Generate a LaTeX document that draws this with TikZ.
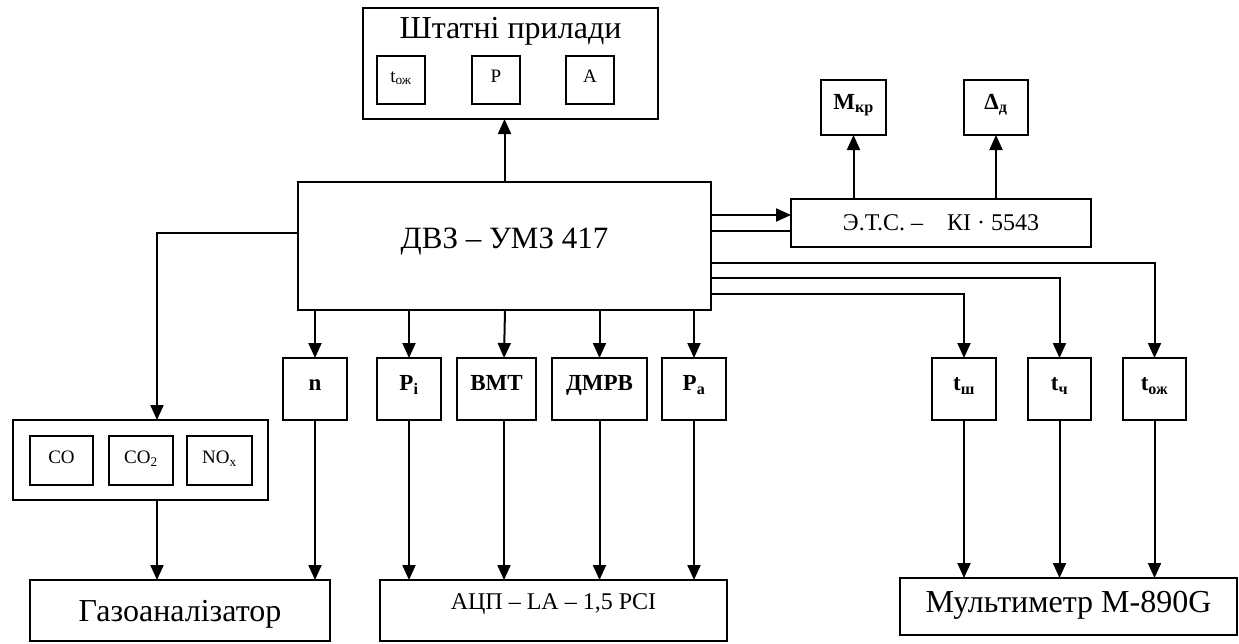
\documentclass[tikz,border=0pt]{standalone}
\usepackage{fontspec}
\setmainfont{Liberation Serif}
\usetikzlibrary{arrows.meta, positioning, calc}

\begin{document}
\begin{tikzpicture}[x=1pt, y=-1pt,
  every node/.style={inner sep=0pt, outer sep=0pt},
  blk/.style={rectangle, draw, line width=1.8pt, align=center},
  sens/.style={blk, font=\fontsize{23}{26}\selectfont\bfseries,
               text height=17pt, text depth=14pt,
               minimum width=64pt, minimum height=62pt},
  mini/.style={blk, font=\fontsize{19}{22}\selectfont,
               text height=13pt, text depth=9pt,
               minimum width=48pt, minimum height=48pt},
  gasmini/.style={blk, font=\fontsize{19}{22}\selectfont,
               text height=13pt, text depth=7pt,
               minimum width=63pt, minimum height=49pt},
  arr/.style={-{Triangle[length=15pt,width=13pt]}, line width=2pt},
  ln/.style={line width=2pt},
]
\useasboundingbox (0,0) rectangle (1239,643);

% top: standard instruments
\node[blk, minimum width=295pt, minimum height=111pt] (shtat) at (510.5,63.5) {};
\node[font=\fontsize{32}{34}\selectfont, anchor=base] (shtatT) at (510.5,38) {Штатні прилади};
\node[mini] (tozh1) at (401,80) {t\textsubscript{ож}};
\node[mini, right=47pt of tozh1] (p) {P};
\node[mini, right=46pt of p] (a) {A};

% engine
\node[blk, font=\fontsize{31}{34}\selectfont, text height=21pt, text depth=16pt,
      minimum width=413pt, minimum height=128pt] (dvz) at (504.5,246) {ДВЗ – УМЗ 417};

% brake stand
\node[blk, font=\fontsize{24}{26}\selectfont, minimum width=300pt, minimum height=48pt] (ets) at (941,223) {Э.Т.С. –\quad КІ · 5543};
\node[sens, minimum width=65pt, minimum height=55pt] (mkr) at (853.5,107.5) {M\textsubscript{кр}};
\node[sens, minimum width=64pt, minimum height=55pt] (dlt) at (996,107.5) {Δ\textsubscript{д}};

% sensors below the engine
\node[sens] (n) at (315,389) {n};
\node[sens, right=30pt of n] (pi) {P\textsubscript{i}};
\node[sens, right=16pt of pi, minimum width=79pt] (bmt) {ВМТ};
\node[sens, right=16pt of bmt, minimum width=95pt] (dmrv) {ДМРВ};
\node[sens, right=15pt of dmrv] (pa) {P\textsubscript{a}};

% temperatures
\node[sens] (tsh) at (964,389) {t\textsubscript{ш}};
\node[sens, minimum width=63pt] (tch) at (1059.5,389) {t\textsubscript{ч}};
\node[sens, minimum width=63pt] (tozh) at (1154.5,389) {t\textsubscript{ож}};

% gas sensors
\node[blk, minimum width=255pt, minimum height=80pt] (gasbox) at (140.5,460) {};
\node[gasmini] (co) at (61.5,460.5) {CO};
\node[gasmini, minimum width=64pt, right=16pt of co] (co2) {CO\textsubscript{2}};
\node[gasmini, minimum width=65pt, right=14pt of co2] (nox) {NO\textsubscript{x}};

% receivers
\node[blk, font=\fontsize{32}{34}\selectfont, text height=23pt, text depth=2pt,
      minimum width=300pt, minimum height=61pt] (gaz) at (180,610.5) {Газоаналізатор};
\node[blk, font=\fontsize{24}{26}\selectfont, text height=16pt, text depth=19pt,
      minimum width=347pt, minimum height=61pt] (adc) at (553.5,610.5) {АЦП – LA – 1,5 PCI};
\node[blk, font=\fontsize{32}{34}\selectfont, text height=22pt, text depth=11pt,
      minimum width=337pt, minimum height=57pt] (mult) at (1068.5,606.5) {Мультиметр M-890G};

% connectors
\draw[arr] (dvz.north) -- (dvz.north |- shtat.south);
\draw[arr] ([yshift=31pt]dvz.east) -- ([yshift=31pt]dvz.east -| ets.west);
\draw[ln]  ([yshift=15pt]dvz.east) -- ([yshift=15pt]dvz.east -| ets.west);
\draw[arr] (ets.north -| mkr) -- (mkr.south);
\draw[arr] (ets.north -| dlt) -- (dlt.south);
\draw[arr] ([yshift=-17pt]dvz.east) -| (tozh.north);
\draw[arr] ([yshift=-32pt]dvz.east) -| (tch.north);
\draw[arr] ([yshift=-48pt]dvz.east) -| (tsh.north);
\draw[arr] ([yshift=13pt]dvz.west) -| ([xshift=16.5pt]gasbox.north);

\foreach \s in {n, pi, dmrv, pa}
  \draw[arr] (dvz.south -| \s) -- (\s.north);
\draw[arr] (dvz.south -| {505,0}) -- ([xshift=7.5pt]bmt.north);

\draw[arr] ([xshift=16.5pt]gasbox.south) -- ([xshift=16.5pt]gasbox.south |- gaz.north);
\draw[arr] (n.south) -- (n.south |- gaz.north);
\foreach \s in {pi, dmrv, pa}
  \draw[arr] (\s.south) -- (\s.south |- adc.north);
\draw[arr] ([xshift=7.5pt]bmt.south) -- ([xshift=7.5pt]bmt.south |- adc.north);
\foreach \s in {tsh, tch, tozh}
  \draw[arr] (\s.south) -- (\s.south |- mult.north);
\end{tikzpicture}
\end{document}
